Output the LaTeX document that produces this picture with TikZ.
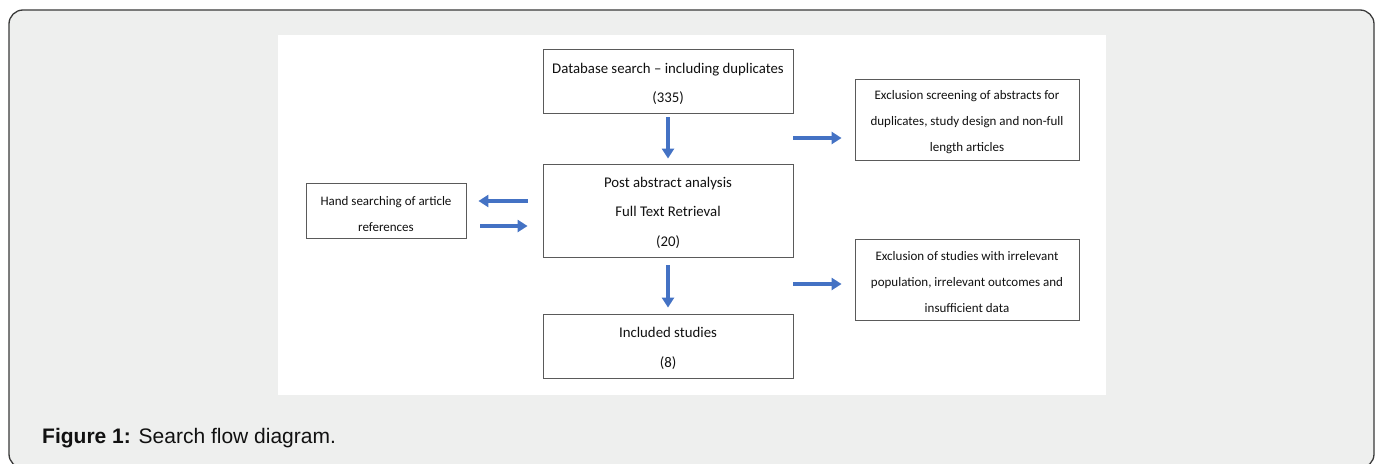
\documentclass[tikz,border=0pt]{standalone}
\usepackage{fontspec}
\setmainfont{Carlito}
\newfontfamily\capfont{Liberation Sans}
\usetikzlibrary{arrows.meta}
\definecolor{bgframe}{HTML}{EEEFEE}
\definecolor{framecol}{HTML}{3A3A3A}
\definecolor{boxcol}{HTML}{5A5A5A}
\definecolor{arrowblue}{HTML}{4472C4}
\definecolor{txt}{HTML}{111111}
\tikzset{
  boxshape/.style={draw=boxcol, line width=0.9pt, fill=white, inner sep=0pt},
  maintext/.style={inner sep=0pt, align=center, text=txt, font=\fontsize{14.8}{29.5}\selectfont},
  sidetext/.style={inner sep=0pt, align=center, text=txt, font=\fontsize{13}{26}\selectfont},
  flowarrow/.style={draw=arrowblue, line width=3.4pt, -{Triangle[length=10pt,width=12pt]}},
}
\begin{document}
\begin{tikzpicture}[x=1pt,y=-1pt]
\useasboundingbox (0,0) rectangle (1380,463);
\clip (0,0) rectangle (1380,463);
\fill[white] (0,0) rectangle (1380,463);
% outer frame
\draw[framecol, fill=bgframe, line width=1.3pt, rounded corners=14pt] (9,10) rectangle (1374,468);
% white panel
\fill[white] (278,35) rectangle (1106,395);
% boxes
\node[boxshape, minimum width=250pt, minimum height=64pt] (db) at (668,81) {};
\node[boxshape, minimum width=250pt, minimum height=93pt] (post) at (668,210.5) {};
\node[boxshape, minimum width=250pt, minimum height=64pt] (incl) at (668,346) {};
\node[boxshape, minimum width=224pt, minimum height=81pt] (ex1) at (967,119.5) {};
\node[boxshape, minimum width=224pt, minimum height=81pt] (ex2) at (967,279.5) {};
\node[boxshape, minimum width=160pt, minimum height=55pt] (hand) at (386,210.5) {};
% texts
\node[maintext] (dbt) at ([yshift=-3pt]db.center) {Database search -- including duplicates\\(335)};
\node[maintext] (postt) at ([yshift=-2pt]post.center) {Post abstract analysis\\Full Text Retrieval\\(20)};
\node[maintext] (inclt) at ([yshift=-2.5pt]incl.center) {Included studies\\(8)};
\node[sidetext] (ex1t) at ([yshift=-3pt]ex1.center) {Exclusion screening of abstracts for\\duplicates, study design and non-full\\length articles};
\node[sidetext] (ex2t) at ([yshift=-3pt]ex2.center) {Exclusion of studies with irrelevant\\population, irrelevant outcomes and\\insufficient data};
\node[sidetext] (handt) at ([yshift=-3.5pt]hand.center) {Hand searching of article\\references};
% arrows
\draw[flowarrow, shorten <=4pt, shorten >=5pt] (db.south) -- (post.north);
\draw[flowarrow, shorten <=8pt, shorten >=6pt] (post.south) -- (incl.north);
\coordinate (r1) at (793,138);
\coordinate (r2) at (793,284);
\draw[flowarrow, shorten >=13pt] (r1) -- (r1 -| ex1.west);
\draw[flowarrow, shorten >=13pt] (r2) -- (r2 -| ex2.west);
\draw[flowarrow, shorten <=15pt, shorten >=12pt] ([yshift=9.5pt]post.west) -- ([yshift=9.5pt]post.west -| hand.east);
\draw[flowarrow, shorten <=14pt, shorten >=15pt] ([yshift=-15.5pt]post.west -| hand.east) -- ([yshift=-15.5pt]post.west);
% caption
\node[anchor=base west, inner sep=0pt, text=txt, font=\capfont\fontsize{21}{25}\selectfont] (cap) at (42,443)
  {\textbf{Figure 1:} Search flow diagram.};
\end{tikzpicture}
\end{document}
